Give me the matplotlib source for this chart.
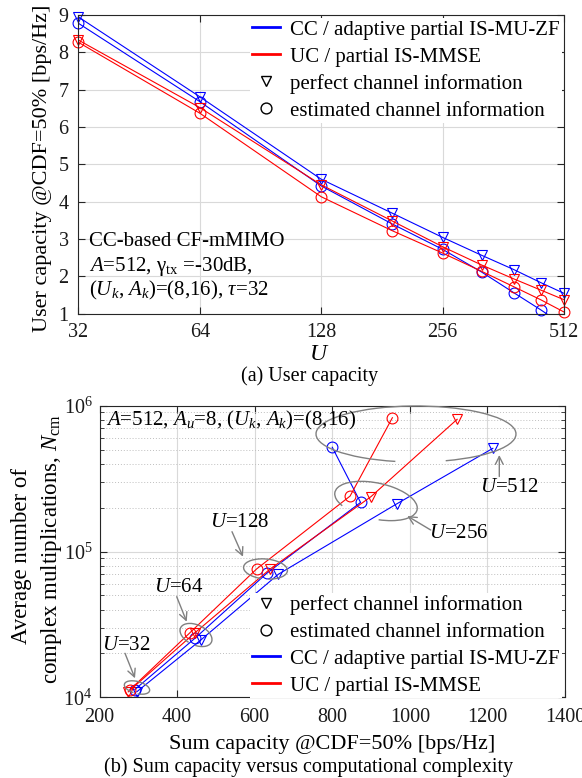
import numpy as np
import matplotlib
matplotlib.use("Agg")
import matplotlib.pyplot as plt
import matplotlib.transforms as mtransforms
from matplotlib.patches import Arc, FancyArrowPatch
from matplotlib.lines import Line2D

# ---------------- data ----------------
# (a) user capacity vs number of users
users = [32, 64, 128, 192, 256, 320, 384, 448, 512]
cc_perfect_user = [8.95, 6.81, 4.60, 3.69, 3.04, 2.56, 2.18, 1.83, 1.54]
cc_estimated_user = [8.78, 6.68, 4.42, 3.40, 2.72, 2.11, 1.56, 1.10, 0.68]
uc_perfect_user = [8.33, 6.52, 4.45, 3.48, 2.79, 2.30, 1.93, 1.63, 1.37]
uc_estimated_user = [8.27, 6.37, 4.13, 3.22, 2.62, 2.13, 1.72, 1.37, 1.04]
user_ticks = [32, 64, 128, 256, 512]

# (b) sum capacity vs complexity, U = 32, 64, 128, 256, 512
cc_perfect_sum = [296, 461, 661, 966, 1214]
cc_perfect_ncm = [1.09e4, 2.47e4, 6.98e4, 2.12e5, 5.10e5]
cc_estimated_sum = [291, 446, 631, 873, 800]
cc_estimated_ncm = [1.13e4, 2.54e4, 7.08e4, 2.17e5, 5.19e5]
uc_perfect_sum = [274, 446, 640, 900, 1122]
uc_perfect_ncm = [1.09e4, 2.77e4, 7.59e4, 2.38e5, 8.07e5]
uc_estimated_sum = [279, 433, 605, 846, 955]
uc_estimated_ncm = [1.13e4, 2.77e4, 7.59e4, 2.40e5, 8.27e5]

# ---------------- style ----------------
plt.rcParams['font.family'] = ['Liberation Serif', 'DejaVu Serif']
plt.rcParams['mathtext.fontset'] = 'custom'
plt.rcParams['mathtext.rm'] = 'Liberation Serif'
plt.rcParams['mathtext.it'] = 'Liberation Serif:italic'
plt.rcParams['mathtext.bf'] = 'Liberation Serif:bold'

W, H = 582, 778
fig = plt.figure(figsize=(W / 100, H / 100), dpi=100)
pix = mtransforms.Affine2D().scale(1 / W, 1 / H) + fig.transFigure


def P(x, y):
    return (x, H - y)


def axes_at(l, t, r, b):
    return fig.add_axes([l / W, (H - b) / H, (r - l) / W, (b - t) / H])


axc = '0.15'
gridc = '0.85'
BLUE = (0, 0, 1)
RED = (1, 0, 0)
lw = 0.8
ms = 7.8


def style_axes(ax):
    for s in ax.spines.values():
        s.set_color(axc)
        s.set_linewidth(0.8)
    ax.tick_params(which='both', direction='in', top=True, right=True,
                   colors=axc, labelcolor='0.1', labelsize=14.5)
    ax.tick_params(which='major', length=5)
    ax.tick_params(which='minor', length=3)


# ---------------- (a) ----------------
ax1 = axes_at(78.3, 15, 564.2, 313.6)
ax1.set_xscale('log', base=2)
ax1.set_xlim(32, 512)
ax1.set_ylim(1, 9)
ax1.set_xticks(user_ticks)
ax1.set_xticklabels([str(u) for u in user_ticks])
ax1.xaxis.set_minor_locator(matplotlib.ticker.NullLocator())
ax1.set_yticks(range(1, 10))
ax1.grid(True, color=gridc, lw=0.8)
ax1.set_axisbelow(True)
style_axes(ax1)
ax1.tick_params(axis='x', pad=6.5)
ax1.tick_params(axis='y', pad=7)

series_a = [
    (cc_perfect_user, BLUE, 'v'),
    (cc_estimated_user, BLUE, 'o'),
    (uc_perfect_user, RED, 'v'),
    (uc_estimated_user, RED, 'o'),
]
ymin_a = 1
for vals, c, m in series_a:
    ax1.plot(users, vals, color=c, lw=lw)
    shown = np.ma.masked_less(np.array(vals, dtype=float), ymin_a)
    ax1.plot(users, shown, lw=0, marker=m, ms=ms, mfc='none', mec=c,
             mew=0.8, clip_on=False)

h_cc = Line2D([], [], color=BLUE, lw=2)
h_uc = Line2D([], [], color=RED, lw=2)
h_pf = Line2D([], [], color='k', lw=0, marker='v', ms=ms, mfc='none', mew=1)
h_es = Line2D([], [], color='k', lw=0, marker='o', ms=ms, mfc='none', mew=1)

leg_kw = dict(frameon=True, fancybox=False, edgecolor='none', facecolor='white',
              framealpha=1, borderpad=0.1, borderaxespad=0, handlelength=1.34,
              handletextpad=0.5, labelspacing=0.35, fontsize=15, loc='upper left')
ax1.legend([h_cc, h_uc, h_pf, h_es],
           ['CC / adaptive partial IS-MU-ZF', 'UC / partial IS-MMSE',
            'perfect channel information', 'estimated channel information'],
           bbox_to_anchor=P(250, 18), bbox_transform=pix, **leg_kw)

fig.text(*P(89, 241.7), 'CC-based CF-mMIMO', transform=pix, fontsize=15,
         ha='left', va='center')
fig.text(*P(89, 266.7), r'$A$=512, γ$_{\mathrm{tx}}$ =-30dB,', transform=pix,
         fontsize=15, ha='left', va='center')
fig.text(*P(89, 290), r'($U_k$, $A_k$)=(8,16), $\tau$=32', transform=pix,
         fontsize=15, ha='left', va='center')

fig.text(*P(43, 168), 'User capacity @CDF=50% [bps/Hz]', transform=pix,
         fontsize=16, rotation=90, ha='center', va='center')
fig.text(*P(319, 354), r'$U$', transform=pix, fontsize=17, ha='center',
         va='center')
fig.text(*P(310, 376), '(a) User capacity', transform=pix, fontsize=14.5,
         ha='center', va='center')

# ---------------- (b) ----------------
ax2 = axes_at(99.5, 405.7, 565, 697.3)
ax2.set_yscale('log')
ax2.set_xlim(200, 1400)
ax2.set_ylim(1e4, 1e6)
ax2.set_xticks(range(200, 1401, 200))
ax2.grid(True, which='major', color=gridc, lw=0.8)
ax2.grid(True, which='minor', axis='y', color='0.75', lw=0.7, ls=(0, (1, 2)))
ax2.set_axisbelow(True)
style_axes(ax2)
ax2.tick_params(axis='x', pad=7.5)
ax2.tick_params(axis='y', pad=5)

series_b = [
    (cc_perfect_sum, cc_perfect_ncm, BLUE, 'v'),
    (cc_estimated_sum, cc_estimated_ncm, BLUE, 'o'),
    (uc_perfect_sum, uc_perfect_ncm, RED, 'v'),
    (uc_estimated_sum, uc_estimated_ncm, RED, 'o'),
]
for xs, ys, c, m in series_b:
    ax2.plot(xs, ys, color=c, lw=lw, marker=m, ms=ms, mfc='none', mec=c,
             mew=0.8, clip_on=False)

ax2.legend([h_pf, h_es, h_cc, h_uc],
           ['perfect channel information', 'estimated channel information',
            'CC / adaptive partial IS-MU-ZF', 'UC / partial IS-MMSE'],
           bbox_to_anchor=P(250, 593), bbox_transform=pix, **leg_kw)

fig.text(*P(106.5, 420), r'$A$=512, $A_u$=8, ($U_k$, $A_k$)=(8,16)',
         transform=pix, fontsize=15, ha='left', va='center')

# annotation ellipses and arrows
gray = '0.5'
arcs = [
    # center(px, y-down), w, h, angle, theta1, theta2
    ((416, 434), 200, 56, 0, -42, 233),
    ((376, 501), 84, 36, -12, -70, 200),
    ((265.5, 569), 44, 20, -5, -70, 250),
    ((196, 635), 34, 20, -25, -70, 250),
    ((137, 687.5), 26, 12, -15, -70, 250),
]
for (cx, cy), w, h, ang, t1, t2 in arcs:
    fig.add_artist(Arc(P(cx, cy), w, h, angle=ang, theta1=t1, theta2=t2,
                       transform=pix, color=gray, lw=1))

labels = [
    (r'$U$=512', (509.5, 487.5), (499.3, 476.5), (499.3, 455)),
    (r'$U$=256', (458.7, 534), (430.7, 530), (407.3, 516)),
    (r'$U$=128', (239.4, 522.5), (232, 531.7), (243, 556.7)),
    (r'$U$=64', (179, 588), (176.7, 596.7), (186.7, 621.7)),
    (r'$U$=32', (126.7, 645), (125, 653.3), (135, 678.3)),
]
for txt, tpos, a0, a1 in labels:
    fig.text(*P(*tpos), txt, transform=pix, fontsize=15, ha='center',
             va='center')
    fig.add_artist(FancyArrowPatch(
        P(*a0), P(*a1), transform=pix, arrowstyle='->', mutation_scale=14,
        color=gray, lw=1, shrinkA=0, shrinkB=0))

fig.text(*P(22, 556), 'Average number of', transform=pix, fontsize=16.5,
         rotation=90, ha='center', va='center')
fig.text(*P(52, 549), r'complex multiplications, $N_{\mathrm{cm}}$',
         transform=pix, fontsize=16.5, rotation=90, ha='center', va='center')
fig.text(*P(332, 745), 'Sum capacity @CDF=50% [bps/Hz]', transform=pix,
         fontsize=16, ha='center', va='center')
fig.text(*P(309, 767), '(b) Sum capacity versus computational complexity',
         transform=pix, fontsize=14.5, ha='center', va='center')

fig.savefig('out.png', dpi=100)
